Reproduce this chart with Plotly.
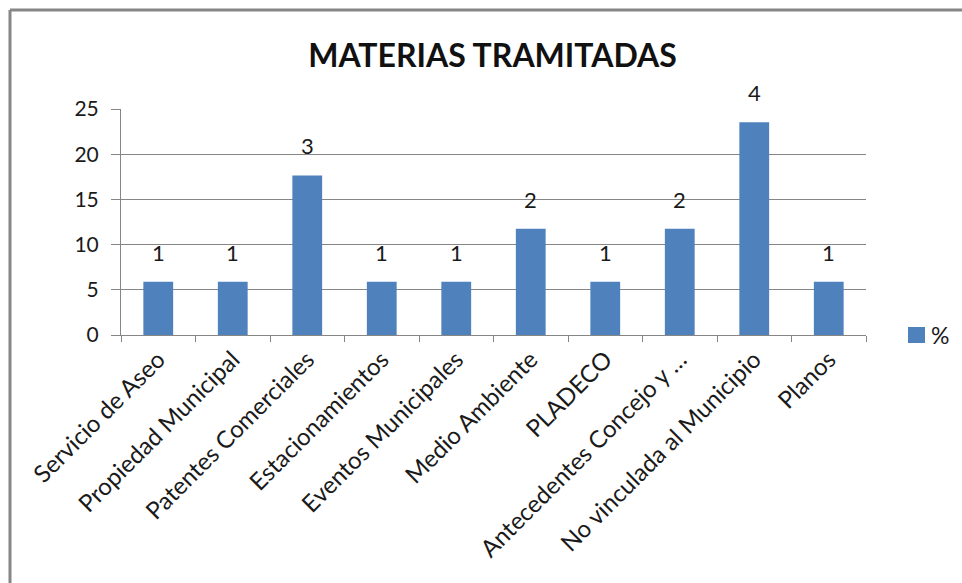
import plotly.graph_objects as go

# Subjects handled and how many of each
categorias = [
    "Servicio de Aseo",
    "Propiedad Municipal",
    "Patentes Comerciales",
    "Estacionamientos",
    "Eventos Municipales",
    "Medio Ambiente",
    "PLADECO",
    "Antecedentes Concejo y …",
    "No vinculada al Municipio",
    "Planos",
]
cantidades = [1, 1, 3, 1, 1, 2, 1, 2, 4, 1]
total = sum(cantidades)
porcentajes = [c / total * 100 for c in cantidades]

y_ticks = [0, 5, 10, 15, 20, 25]
serie = "%"

FONT = "Lato"
GRAY = "#868686"
BLUE = "#4F81BD"
TEXT = "#1a1a1a"

fig = go.Figure()
fig.add_trace(go.Bar(
    x=categorias,
    y=porcentajes,
    name=serie,
    marker=dict(color=BLUE, line=dict(width=0)),
    showlegend=False,
))

# Count labels above each bar
for cat, pct, n in zip(categorias, porcentajes, cantidades):
    fig.add_annotation(
        x=cat, y=pct, text=str(n), showarrow=False,
        yanchor="bottom", yshift=14,
        font=dict(family=FONT, size=22, color=TEXT),
    )

# Legend key: swatch + series name
fig.add_shape(type="rect", xref="paper", yref="paper",
              x0=1.0564, x1=1.0792, y0=-0.0354, y1=0.0354,
              fillcolor=BLUE, line=dict(width=0))
fig.add_annotation(xref="paper", yref="paper", x=1.0846, y=0.0,
                   xanchor="left", yanchor="middle", text=serie,
                   showarrow=False, font=dict(family=FONT, size=23, color=TEXT))

# Chart frame (top and left edges)
fig.add_shape(type="line", xref="paper", yref="paper",
              x0=-0.1490, x1=1.2, y0=1.4380, y1=1.4380,
              line=dict(color=GRAY, width=3))
fig.add_shape(type="line", xref="paper", yref="paper",
              x0=-0.1490, x1=-0.1490, y0=1.4380, y1=-1.2,
              line=dict(color=GRAY, width=3))

fig.update_layout(
    width=962, height=583,
    margin=dict(l=121, r=96, t=109, b=248),
    paper_bgcolor="white", plot_bgcolor="white",
    title=dict(text="<b>MATERIAS TRAMITADAS</b>", x=0.512, xanchor="center",
               y=0.905, yanchor="middle",
               font=dict(family=FONT, size=32, color="#111111")),
    bargap=0.6,
    showlegend=False,
    xaxis=dict(
        type="category",
        tickangle=-45,
        tickson="boundaries",
        ticks="outside", ticklen=6, tickcolor=GRAY,
        showline=True, linecolor=GRAY, linewidth=1,
        showgrid=False,
        tickfont=dict(family=FONT, size=24, color=TEXT),
    ),
    yaxis=dict(
        range=[0, 25],
        tickvals=y_ticks,
        ticks="outside", ticklen=9, tickcolor=GRAY,
        ticklabelstandoff=8,
        showline=True, linecolor=GRAY, linewidth=1,
        showgrid=True, gridcolor=GRAY, gridwidth=1,
        zeroline=False,
        tickfont=dict(family=FONT, size=21, color=TEXT),
    ),
)

fig.write_html("out.html")
